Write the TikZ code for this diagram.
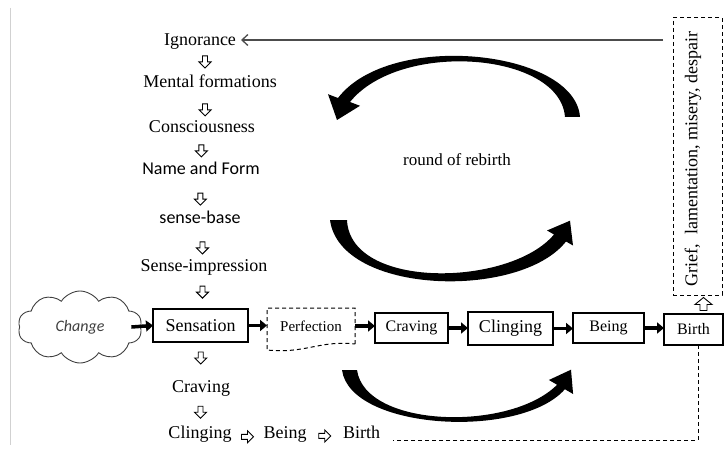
\documentclass[tikz,border=0pt]{standalone}
\usepackage{fontspec}
\setmainfont{Liberation Serif}
\newfontfamily\sansfont{Carlito}
\usetikzlibrary{arrows.meta,shapes.symbols,calc}

\begin{document}
\begin{tikzpicture}[x=1pt,y=-1pt,
  every node/.style={inner sep=0pt, outer sep=0pt},
  steplabel/.style={font=\fontsize{18}{20}\selectfont, anchor=base},
  sanslabel/.style={font=\sansfont\fontsize{18}{20}\selectfont, anchor=base},
  stagebox/.style={draw, line width=1.2pt},
  thickarrow/.style={line width=3.5pt, -{Triangle[length=7pt,width=11pt]}},
  dashline/.style={line width=1pt, dash pattern=on 4pt off 3pt},
  fbarrow/.style={draw=black!70, line width=1.3pt, -{Straight Barb[length=6pt,width=11pt]}},
  hollow/.style={draw=black, line width=0.9pt, fill=white, line join=miter},
  pics/darr/.style={code={\draw[hollow] (-2.5,-6) -- (2.5,-6) -- (2.5,0) -- (6,0) -- (0,6) -- (-6,0) -- (-2.5,0) -- cycle;}},
  pics/rarr/.style={code={\draw[hollow] (-6,-2.5) -- (0,-2.5) -- (0,-6) -- (6,0) -- (0,6) -- (0,2.5) -- (-6,2.5) -- cycle;}},
  pics/uarr/.style={code={\draw[hollow] (-3.5,6) -- (3.5,6) -- (3.5,0) -- (8.5,0) -- (0,-7) -- (-8.5,0) -- (-3.5,0) -- cycle;}},
]
\useasboundingbox (0,0) rectangle (724,452);

% page edge
\draw[black!18, line width=0.8pt] (10,8) -- (10,445);

% chain of conditions (left column)
\node[steplabel] (ign) at (200,46)  {Ignorance};
\node[steplabel] (mf)  at (210,88)  {Mental formations};
\node[steplabel] (con) at (202,133) {Consciousness};
\node[sanslabel] (nf)  at (201,175) {Name and Form};
\node[sanslabel] (sb)  at (200,223) {sense-base};
\node[steplabel] (si)  at (204,271) {Sense-impression};
\node[stagebox, minimum width=95pt, minimum height=33pt,
      font=\fontsize{18}{20}\selectfont] (sens) at (200.5,325.5) {Sensation};
\node[steplabel] (crv) at (201,392) {Craving};
\node[steplabel] (cl)  at (200,438) {Clinging};
\node[steplabel] (be)  at (285,438) {Being};
\node[steplabel] (bi)  at (361.5,438) {Birth};

\foreach \a/\b/\r in {ign/mf/0.5, mf/con/0.62, con/nf/0.57, nf/sb/0.63,
                      sb/si/0.62, si/sens/0.43, sens/crv/0.52, crv/cl/0.53}
  \pic at ($(\a)!\r!(\b)$) {darr};
\pic at ([yshift=-3pt]$(cl.east)!0.5!(be.west)$) {rarr};
\pic at ([yshift=-3pt]$(be.east)!0.5!(bi.west)$) {rarr};

% change cloud
\node[cloud, cloud puffs=10, cloud puff arc=115, aspect=1.45, draw=black!75,
      line width=0.9pt, minimum width=124pt, minimum height=72pt,
      font=\sansfont\itshape\fontsize{16}{18}\selectfont, text=black!75]
      (chg) at (80,327) {Change};

% stage row
\node[minimum width=88pt, minimum height=36pt, font=\fontsize{15}{18}\selectfont]
      (perf) at (311,326) {Perfection};
\draw[dashline] (perf.south east) -- (perf.north east) -- (perf.north west)
  -- ([yshift=-6pt]perf.south west)
  .. controls ($(perf.south west)+(38,10)$) and ($(perf.south east)+(-35,-4)$) .. (perf.south east);
\node[stagebox, minimum width=73pt, minimum height=30pt,
      font=\fontsize{16}{18}\selectfont] (cvb) at (411.5,328) {Craving};
\node[stagebox, minimum width=85pt, minimum height=33pt,
      font=\fontsize{18}{20}\selectfont] (clb) at (510.5,328.5) {Clinging};
\node[stagebox, minimum width=71pt, minimum height=30pt,
      font=\fontsize{16}{18}\selectfont] (beb) at (608.5,328) {Being};
\node[stagebox, minimum width=59pt, minimum height=31pt,
      font=\fontsize{16}{18}\selectfont] (bib) at (693.5,329.5) {Birth};

\draw[thickarrow] ([xshift=-9pt]chg.east) -- (sens.west);
\draw[thickarrow] (sens.east) -- (sens.east -| perf.west);
\draw[thickarrow] (perf.east) -- (perf.east -| cvb.west);
\draw[thickarrow] (cvb.east) -- (cvb.east -| clb.west);
\draw[thickarrow] (clb.east) -- (clb.east -| beb.west);
\draw[thickarrow] (beb.east) -- (beb.east -| bib.west);

% suffering box
\node[draw, dashline, minimum width=49pt, minimum height=277pt] (gbox) at (697.5,156.5) {};
\node[rotate=90, font=\fontsize{18}{20}\selectfont] (gtxt) at (693,159)
      {Grief,\ \ lamentation, misery, despair};
\coordinate (ua) at ($(bib.north)!0.5!(gbox.south)$);
\pic at ([xshift=8pt]ua) {uarr};

% return to ignorance
\coordinate (fb) at (663,40);
\draw[fbarrow, shorten >=5pt] (fb) -- (fb -| ign.east);

% birth back to the bottom row
\coordinate (corner) at (698,440);
\coordinate (dend) at (393,440);
\draw[dashline] (bib.south -| corner) -- (corner) -- (dend);

% round of rebirth
\node[font=\fontsize{17}{20}\selectfont, anchor=base] (rr) at (457,165) {round of rebirth};

% curved cycle arrows
\fill (580,117) .. controls (575,50) and (390,30) .. (338,98)
  -- (328,94.2) -- (337,120) -- (360,105.8) -- (350,102)
  .. controls (400,40) and (560,52) .. (565,117) -- cycle;
\fill (330,220) .. controls (340,295) and (520,300) .. (566,241.5)
  -- (573,245.5) -- (570,220.7) -- (547,230.5) -- (554,234.5)
  .. controls (510,287) and (350,290) .. (347,220) -- cycle;
\fill (342,370) .. controls (350,430) and (520,440) .. (564.9,389.25)
  -- (573.1,394) -- (571,369.7) -- (548.9,380) -- (557.1,384.75)
  .. controls (510,432) and (365,428) .. (357,370) -- cycle;
\end{tikzpicture}
\end{document}
